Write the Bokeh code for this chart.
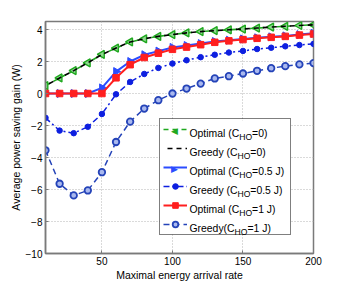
import math
from bokeh.plotting import figure
from bokeh.models import (Legend, LegendItem, Label, Range1d, FixedTicker,
                          ColumnDataSource, BoxAnnotation)
from bokeh.embed import file_html
from bokeh.resources import INLINE

# ---------------- data ----------------
x_rate = [10, 20, 30, 40, 50, 60, 70, 80, 90, 100,
          110, 120, 130, 140, 150, 160, 170, 180, 190, 200]
optimal_0 = [0.49, 0.97, 1.43, 1.92, 2.44, 2.84, 3.22, 3.42, 3.57, 3.68,
             3.79, 3.87, 3.93, 3.98, 4.03, 4.09, 4.15, 4.20, 4.25, 4.29]
greedy_0 = [0.49, 0.97, 1.43, 1.92, 2.44, 2.84, 3.22, 3.42, 3.57, 3.68,
            3.79, 3.87, 3.93, 3.98, 4.03, 4.09, 4.15, 4.20, 4.25, 4.29]
optimal_05 = [0.0, 0.0, 0.0, 0.0, 0.35, 1.37, 2.00, 2.42, 2.65, 2.88,
              3.00, 3.12, 3.25, 3.33, 3.41, 3.48, 3.54, 3.60, 3.68, 3.76]
greedy_05 = [-1.52, -2.32, -2.48, -2.08, -1.28, -0.05, 0.72, 1.22, 1.60, 1.87,
             2.08, 2.27, 2.42, 2.56, 2.66, 2.78, 2.86, 2.95, 3.03, 3.10]
optimal_1 = [0.0, 0.0, 0.0, 0.0, 0.0, 0.98, 1.80, 2.25, 2.52, 2.76,
             2.90, 3.05, 3.20, 3.29, 3.37, 3.45, 3.51, 3.57, 3.65, 3.72]
greedy_1 = [-3.55, -5.64, -6.37, -6.06, -4.92, -3.03, -1.76, -0.94, -0.42, 0.0,
            0.31, 0.62, 0.94, 1.08, 1.25, 1.42, 1.58, 1.71, 1.82, 1.90]

x_ticks = [50, 100, 150, 200]
y_ticks = [-10, -8, -6, -4, -2, 0, 2, 4]

legend_main = ["Optimal (C", "Greedy (C", "Optimal (C", "Greedy (C", "Optimal (C", "Greedy(C"]
legend_sub = ["HO", "HO", "HO", "HO", "HO", "HO"]
legend_rest = ["=0)", "=0)", "=0.5 J)", "=0.5 J)", "=1 J)", "=1 J)"]

x_label = "Maximal energy arrival rate"
y_label = "Average power saving gain (W)"

# ---------------- styles ----------------
FONT = "Liberation Sans"
GREEN = "#1fa81f"
BLACK = "#000000"
BLUE_OPT = "#2b4cff"
BLUE_GR = "#0d1fe0"
RED = "#ff1f1f"
NAVY = "#2443b8"
GRAY = "#7a7a7a"

p = figure(width=346, height=284, output_backend="svg", toolbar_location=None,
           x_range=Range1d(10, 200), y_range=Range1d(-10, 4.5),
           min_border_left=45, min_border_right=33, min_border_top=21, min_border_bottom=31)

p.background_fill_color = "white"
p.border_fill_color = "white"
p.outline_line_color = GRAY
p.outline_line_width = 1.5

for ax in (p.xaxis, p.yaxis):
    ax.axis_line_color = GRAY
    ax.axis_line_width = 1.5
    ax.major_tick_line_color = GRAY
    ax.major_tick_in = 3
    ax.major_tick_out = 0
    ax.minor_tick_line_color = None
    ax.major_label_text_font = FONT
    ax.major_label_text_font_size = "10px"
    ax.major_label_text_color = "black"
    ax.axis_label_text_font = FONT
    ax.axis_label_text_font_size = "10.5px"
    ax.axis_label_text_font_style = "normal"
    ax.axis_label_text_color = "black"
    ax.major_label_standoff = 3
    ax.axis_label_standoff = 1

p.xaxis.ticker = FixedTicker(ticks=x_ticks)
p.yaxis.ticker = FixedTicker(ticks=y_ticks)
p.yaxis.major_label_overrides = {t: (("\u2212" + str(-t)) if t < 0 else str(t)) for t in y_ticks}
p.xaxis.axis_label = x_label
p.yaxis.axis_label = y_label

p.xgrid.grid_line_color = "#b5b5b5"
p.ygrid.grid_line_color = "#b5b5b5"
p.xgrid.grid_line_dash = "1 2"
p.ygrid.grid_line_dash = "1 2"

# white backing for the legend box (covers the dotted grid only)
p.add_layout(BoxAnnotation(left=114, right=245, bottom=19, top=133,
                           left_units="screen", right_units="screen",
                           bottom_units="screen", top_units="screen",
                           fill_color="white", fill_alpha=1, line_color=None,
                           level="underlay"))

# ---------------- series ----------------
src = ColumnDataSource(dict(
    x=x_rate, o0=optimal_0, g0=greedy_0, o05=optimal_05, g05=greedy_05,
    o1=optimal_1, g1=greedy_1,
    left=[math.pi / 2] * len(x_rate), right=[-math.pi / 2] * len(x_rate)))

l1 = p.line("x", "o0", source=src, line_color=GREEN, line_width=1.6, line_dash="5 4")
m1 = p.scatter("x", "o0", source=src, marker="triangle", angle="left", size=8,
               line_color=GREEN, line_width=1.4, fill_color="#8fd88f")
l2 = p.line("x", "g0", source=src, line_color=BLACK, line_width=1.6, line_dash="5 4",
            line_dash_offset=5)

l3 = p.line("x", "o05", source=src, line_color=BLUE_OPT, line_width=2)
m3 = p.scatter("x", "o05", source=src, marker="triangle", angle="right", size=8,
               line_color=BLUE_OPT, fill_color=BLUE_OPT)

l4 = p.line("x", "g05", source=src, line_color=BLUE_GR, line_width=1.5, line_dash="6 3 2 3")
m4 = p.scatter("x", "g05", source=src, marker="circle", size=5.5,
               line_color=BLUE_GR, fill_color=BLUE_GR)

l5 = p.line("x", "o1", source=src, line_color=RED, line_width=2)
m5 = p.scatter("x", "o1", source=src, marker="square", size=6.5,
               line_color=RED, fill_color=RED)

l6 = p.line("x", "g1", source=src, line_color=NAVY, line_width=1.5, line_dash="6 4")
m6 = p.scatter("x", "g1", source=src, marker="circle", size=6.5, line_width=1.8,
               line_color=NAVY, fill_color="#a9b8ee")

# triangles are drawn as rotated glyph symbols in the legend (see below)
groups = [[l1], [l2], [l3], [l4, m4], [l5, m5], [l6, m6]]
items = [LegendItem(label=" ", renderers=g) for g in groups]

legend = Legend(items=items, location=(114, 18), orientation="vertical",
                padding=3, spacing=5, margin=0,
                glyph_width=24, glyph_height=14, label_height=14,
                label_width=97, label_standoff=3,
                label_text_font_size="6px",
                border_line_color="black", border_line_width=1,
                background_fill_alpha=0)
p.add_layout(legend, "center")

# legend-sample triangles (pointing left / right as in the plot)
for sym, col, row in (("\u25C0", GREEN, 0), ("\u25B6", BLUE_OPT, 2)):
    p.add_layout(Label(x=129, y=123 - 19 * row, x_units="screen", y_units="screen",
                       text=sym, text_font="DejaVu Sans", text_font_size="9px",
                       text_align="center", text_baseline="middle", text_color=col))

# legend texts (Arial / Liberation Sans advance widths, per em)
W = {" ": .278, "(": .333, ")": .333, "=": .584, ".": .278, "0": .556, "1": .556,
     "5": .556, "C": .722, "H": .722, "O": .778, "J": .5, "G": .778, "a": .556,
     "d": .556, "e": .556, "i": .222, "l": .222, "m": .833, "p": .556, "r": .333,
     "t": .278, "y": .5}

def text_w(s, fs):
    return sum(W.get(c, .556) for c in s) * fs

FS_MAIN = 10.4
FS_SUB = 8.6
text_x0 = 144          # from frame left
for i in range(len(legend_main)):
    yc = 124 - 19 * i   # centre of row i, measured up from frame bottom
    xb = text_x0
    p.add_layout(Label(x=xb, y=yc - 4, x_units="screen", y_units="screen",
                       text=legend_main[i], text_font=FONT, text_font_size=f"{FS_MAIN}px",
                       text_baseline="alphabetic", text_align="left", text_color="black"))
    xb += text_w(legend_main[i], FS_MAIN)
    p.add_layout(Label(x=xb, y=yc - 7, x_units="screen", y_units="screen",
                       text=legend_sub[i], text_font=FONT, text_font_size=f"{FS_SUB}px",
                       text_baseline="alphabetic", text_align="left", text_color="black"))
    xb += text_w(legend_sub[i], FS_SUB)
    p.add_layout(Label(x=xb, y=yc - 4, x_units="screen", y_units="screen",
                       text=legend_rest[i], text_font=FONT, text_font_size=f"{FS_MAIN}px",
                       text_baseline="alphabetic", text_align="left", text_color="black"))

open("out.html", "w").write(file_html(p, INLINE))
